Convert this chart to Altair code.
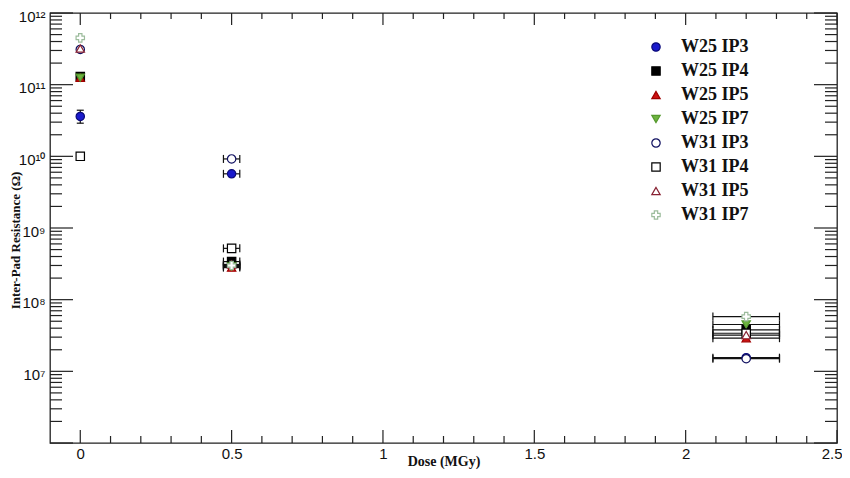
import altair as alt
import pandas as pd

# ---------------- data ----------------
series = ["W25 IP3", "W25 IP4", "W25 IP5", "W25 IP7",
          "W31 IP3", "W31 IP4", "W31 IP5", "W31 IP7"]
doses = [0.0, 0.5, 2.2]
dose_err = [0.0, 0.027, 0.11]

w25_ip3 = [3.6e10, 5.7e9, 1.55e7]
w25_ip4 = [1.3e11, 3.4e8, 3.8e7]
w25_ip5 = [1.25e11, 2.8e8, 2.9e7]
w25_ip7 = [1.25e11, 2.9e8, 4.5e7]
w31_ip3 = [3.1e11, 9.2e9, 1.5e7]
w31_ip4 = [1.0e10, 5.2e8, 3.4e7]
w31_ip5 = [3.2e11, 3.1e8, 3.2e7]
w31_ip7 = [4.5e11, 3.0e8, 5.8e7]
values = [w25_ip3, w25_ip4, w25_ip5, w25_ip7, w31_ip3, w31_ip4, w31_ip5, w31_ip7]

# vertical error bar (only visible one: W25 IP3 at dose 0)
w25_ip3_lo = [2.9e10, None, None]
w25_ip3_hi = [4.4e10, None, None]

shapes = ["circle", "square", "triangle-up", "triangle-down",
          "circle", "square", "triangle-up", "cross"]
fills = ["#1a1acc", "#000000", "#cc1111", "#6db33f",
         "#ffffff", "#ffffff", "#ffffff", "#ffffff"]
strokes = ["#0a0a7a", "#000000", "#a00000", "#55992e",
           "#101060", "#000000", "#882233", "#9cbc9c"]

x_major = [0, 0.5, 1, 1.5, 2, 2.5]
x_labels = ["0", "0.5", "1", "1.5", "2", "2.5"]
x_minor = [0.1, 0.2, 0.3, 0.4, 0.6, 0.7, 0.8, 0.9, 1.1, 1.2, 1.3, 1.4,
           1.6, 1.7, 1.8, 1.9, 2.1, 2.2, 2.3, 2.4]
y_major = [1e6, 1e7, 1e8, 1e9, 1e10, 1e11, 1e12]
y_minor = [k * 10 ** n for n in range(6, 12) for k in range(2, 10)]
y_label_vals = [1e7, 1e8, 1e9, 1e10, 1e11, 1e12]
y_label_txt = ["10⁷", "10⁸", "10⁹", "10¹⁰", "10¹¹", "10¹²"]

# ---------------- tables ----------------
rows = []
for s, vals in zip(series, values):
    for i, (d, r) in enumerate(zip(doses, vals)):
        rows.append(dict(series=s, dose=d, R=r,
                         dlo=d - dose_err[i], dhi=d + dose_err[i],
                         derr=dose_err[i]))
df = pd.DataFrame(rows)
herr = df[df["derr"] > 0]

vrows = []
for d, r, lo, hi in zip(doses, w25_ip3, w25_ip3_lo, w25_ip3_hi):
    if lo is not None:
        vrows.append(dict(dose=d, lo=lo, hi=hi))
verr = pd.DataFrame(vrows)

W, H = 787, 430
xscale = alt.Scale(domain=[-0.1, 2.5], nice=False, zero=False)
yscale = alt.Scale(type="log", domain=[1e6, 1e12], nice=False)

ylab_expr = " : ".join(
    [f"datum.value == {v:g} ? '{t}'" for v, t in zip(y_label_vals, y_label_txt)]
) + " : ''"
xlab_expr = " : ".join(
    [f"abs(datum.value - {v}) < 0.001 ? '{t}'" for v, t in zip(x_major, x_labels)]
) + " : ''"

TICKFONT = "Liberation Sans Narrow, Liberation Sans, Arial, sans-serif"
SERIF = "Liberation Serif, Times New Roman, serif"

xaxis = alt.Axis(values=x_major, labelExpr=xlab_expr, title="Dose (MGy)",
                 ticks=False, tickSize=0, domain=False, grid=False,
                 labelFont=TICKFONT, labelFontSize=15, labelColor="#111",
                 labelPadding=3, labelFlush=False, labelOverlap=False,
                 labelAlign={"condition": {"test": "datum.value > 2.4",
                                           "value": "right"},
                             "value": "center"},
                 labelOffset={"condition": {"test": "datum.value > 2.4",
                                            "value": 5},
                              "value": 0},
                 titleFont=SERIF, titleFontWeight="bold", titleFontSize=14,
                 titleY=18, titleBaseline="middle", titleColor="#111")
yaxis = alt.Axis(values=y_label_vals, labelExpr=ylab_expr,
                 title="Inter-Pad Resistance (Ω)", ticks=False, tickSize=0,
                 domain=False, grid=False,
                 labelFont="Liberation Sans, Arial, sans-serif",
                 labelFontSize=15, labelColor="#111", labelPadding=5,
                 labelOverlap=False, labelOffset=3,
                 titleFont=SERIF, titleFontWeight="bold", titleFontSize=13,
                 titleX=-35, titleY=227, titleAngle=270,
                 titleAlign="center", titleBaseline="middle",
                 titleColor="#111")

legend = alt.Legend(orient="none", legendX=597, legendY=25, title=None,
                    labelFont=SERIF, labelFontWeight="bold", labelFontSize=18,
                    labelColor="#111", symbolSize=70, rowPadding=6,
                    labelOffset=16, symbolStrokeWidth=1.2)


def X(field):
    return alt.X(field, scale=xscale, axis=xaxis, title="Dose (MGy)")


def Y(field):
    return alt.Y(field, scale=yscale, axis=yaxis, title="Inter-Pad Resistance (Ω)")


points = alt.Chart(df).mark_point(opacity=1, strokeWidth=1.2, size=70).encode(
    x=X("dose:Q"), y=Y("R:Q"),
    shape=alt.Shape("series:N", scale=alt.Scale(domain=series, range=shapes),
                    legend=legend),
    fill=alt.Fill("series:N", scale=alt.Scale(domain=series, range=fills),
                  legend=legend),
    stroke=alt.Stroke("series:N", scale=alt.Scale(domain=series, range=strokes),
                      legend=legend),
)

hbars = alt.Chart(herr).mark_rule(color="#111", strokeWidth=1.2).encode(
    x=X("dlo:Q"), x2="dhi:Q", y=Y("R:Q"))
hcap_lo = alt.Chart(herr).mark_tick(orient="vertical", size=8, thickness=1.2,
                                    color="#111", opacity=1).encode(
    x=X("dlo:Q"), y=Y("R:Q"))
hcap_hi = alt.Chart(herr).mark_tick(orient="vertical", size=8, thickness=1.2,
                                    color="#111", opacity=1).encode(
    x=X("dhi:Q"), y=Y("R:Q"))
vbars = alt.Chart(verr).mark_rule(color="#111", strokeWidth=1.2).encode(
    x=X("dose:Q"), y=Y("lo:Q"), y2="hi:Q")
vcap_lo = alt.Chart(verr).mark_tick(orient="horizontal", size=7, thickness=1.2,
                                    color="#111", opacity=1).encode(
    x=X("dose:Q"), y=Y("lo:Q"))
vcap_hi = alt.Chart(verr).mark_tick(orient="horizontal", size=7, thickness=1.2,
                                    color="#111", opacity=1).encode(
    x=X("dose:Q"), y=Y("hi:Q"))


def yticks(vals, x0, x1):
    return alt.Chart(pd.DataFrame({"v": vals})).mark_rule(
        color="#222", strokeWidth=1.2).encode(
        y=Y("v:Q"), x=alt.value(x0), x2=alt.value(x1))


def xticks(vals, y0, y1):
    return alt.Chart(pd.DataFrame({"v": vals})).mark_rule(
        color="#222", strokeWidth=1.2).encode(
        x=X("v:Q"), y=alt.value(y0), y2=alt.value(y1))


ticks = [
    yticks(y_major, 0, 23), yticks(y_minor, 0, 12),
    yticks(y_major, W, W - 23), yticks(y_minor, W, W - 12),
    xticks(x_major, H, H - 13), xticks(x_minor, H, H - 7),
    xticks(x_major, 0, 12), xticks(x_minor, 0, 6),
]

chart = alt.layer(
    *ticks, hbars, hcap_lo, hcap_hi, vbars, vcap_lo, vcap_hi, points
).properties(
    width=W, height=H,
    padding={"left": 42, "top": 5, "right": 5, "bottom": 27},
    autosize=alt.AutoSizeParams(type="none"),
).configure_view(stroke="#222", strokeWidth=1.3)

chart.save("out.html", embed_options={"renderer": "svg", "actions": False})
